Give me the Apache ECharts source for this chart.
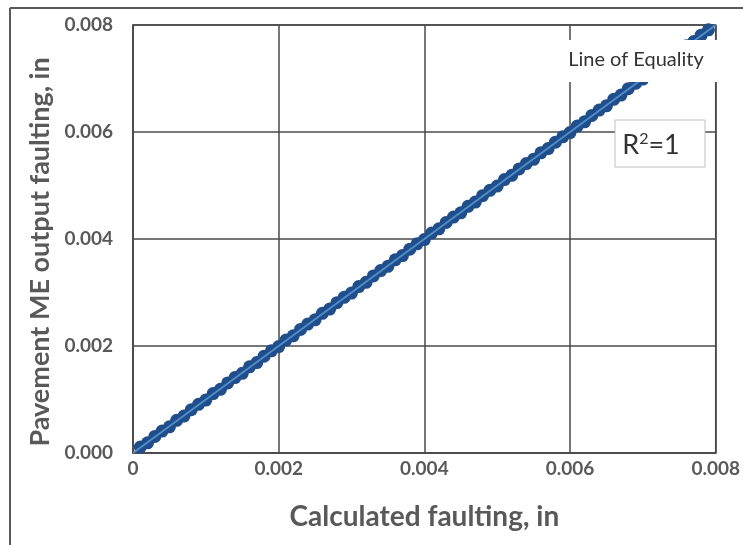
<!DOCTYPE html>
<html>
<head>
<meta charset="utf-8">
<script src="https://cdn.jsdelivr.net/npm/echarts@6/dist/echarts.min.js"></script>
<style>html,body{margin:0;padding:0;background:#fff}#c{width:743px;height:545px}</style>
</head>
<body>
<div id="c"></div>
<script>
var calculated = [0.00010,0.00020,0.00030,0.00040,0.00050,0.00060,0.00070,0.00080,0.00090,0.00100,
0.00110,0.00120,0.00130,0.00140,0.00150,0.00160,0.00170,0.00180,0.00190,0.00200,
0.00210,0.00220,0.00230,0.00240,0.00250,0.00260,0.00270,0.00280,0.00290,0.00300,
0.00310,0.00320,0.00330,0.00340,0.00350,0.00360,0.00370,0.00380,0.00390,0.00400,
0.00410,0.00420,0.00430,0.00440,0.00450,0.00460,0.00470,0.00480,0.00490,0.00500,
0.00510,0.00520,0.00530,0.00540,0.00550,0.00560,0.00570,0.00580,0.00590,0.00600,
0.00610,0.00620,0.00630,0.00640,0.00650,0.00660,0.00670,0.00680,0.00690,0.00700,
0.00710,0.00720,0.00730,0.00740,0.00750,0.00760,0.00770,0.00780,0.00790];
var pavementME = [0.00011,0.00019,0.00031,0.00041,0.00049,0.00061,0.00069,0.00081,0.00091,0.00099,
0.00111,0.00119,0.00131,0.00141,0.00149,0.00161,0.00169,0.00181,0.00191,0.00199,
0.00211,0.00219,0.00231,0.00241,0.00249,0.00261,0.00269,0.00281,0.00291,0.00299,
0.00311,0.00319,0.00331,0.00341,0.00349,0.00361,0.00369,0.00381,0.00391,0.00399,
0.00411,0.00419,0.00431,0.00441,0.00449,0.00461,0.00469,0.00481,0.00491,0.00499,
0.00511,0.00519,0.00531,0.00541,0.00549,0.00561,0.00569,0.00581,0.00591,0.00599,
0.00611,0.00619,0.00631,0.00641,0.00649,0.00661,0.00669,0.00681,0.00691,0.00699,
0.00711,0.00719,0.00731,0.00741,0.00749,0.00761,0.00769,0.00781,0.00791];
var equalityLine = [[0, 0], [0.008, 0.008]];
var xTickLabels = ['0', '0.002', '0.004', '0.006', '0.008'];
var yTickLabels = ['0.000', '0.002', '0.004', '0.006', '0.008'];
var xTitle = 'Calculated faulting, in';
var yTitle = 'Pavement ME output faulting, in';
var lineLabel = 'Line of Equality';

var pts = calculated.map(function (v, i) { return [v, pavementME[i]]; });
var FONT = 'Lato';
var GRID = '#4a4a4a';
var chart = echarts.init(document.getElementById('c'), null, {renderer: 'canvas'});
chart.setOption({
  animation: false,
  backgroundColor: '#fff',
  grid: {left: 133, right: 25, top: 25, bottom: 92, show: true, borderColor: GRID, borderWidth: 1.5},
  xAxis: {
    type: 'value', min: 0, max: 0.008, interval: 0.002,
    name: xTitle, nameLocation: 'middle', nameGap: 50,
    nameTextStyle: {fontFamily: FONT, fontWeight: 'bold', fontSize: 28, color: '#595959'},
    axisLine: {show: true, lineStyle: {color: GRID, width: 1.5}},
    axisTick: {show: false},
    axisLabel: {margin: 6, fontFamily: FONT, fontWeight: 'bold', fontSize: 19, color: '#595959',
      formatter: function (v) { return xTickLabels[Math.round(v / 0.002)]; }},
    splitLine: {show: true, lineStyle: {color: GRID, width: 1.5}}
  },
  yAxis: {
    type: 'value', min: 0, max: 0.008, interval: 0.002,
    name: yTitle, nameLocation: 'middle', nameGap: 74,
    nameTextStyle: {fontFamily: FONT, fontWeight: 'bold', fontSize: 27, color: '#595959', padding: [0, 26, 0, 0]},
    axisLine: {show: true, lineStyle: {color: GRID, width: 1.5}},
    axisTick: {show: false},
    axisLabel: {margin: 20, fontFamily: FONT, fontWeight: 'bold', fontSize: 19, color: '#595959',
      formatter: function (v) { return yTickLabels[Math.round(v / 0.002)]; }},
    splitLine: {show: true, lineStyle: {color: GRID, width: 1.5}}
  },
  series: [
    {type: 'scatter', data: pts, symbol: 'circle', symbolSize: 13,
      itemStyle: {color: '#1f4e8a', opacity: 1}, z: 3},
    {type: 'line', data: equalityLine, symbol: 'none',
      lineStyle: {color: '#4f8cc9', width: 2}, z: 4}
  ],
  graphic: [
    {type: 'line', shape: {x1: 10, y1: 8, x2: 743, y2: 8}, style: {stroke: '#595959', lineWidth: 2}, z: 10},
    {type: 'line', shape: {x1: 10, y1: 8, x2: 10, y2: 545}, style: {stroke: '#595959', lineWidth: 2}, z: 10},
    {type: 'rect', shape: {x: 565, y: 40, width: 160, height: 42}, style: {fill: '#fff'}, z: 10},
    {type: 'text', x: 636, y: 60, style: {text: lineLabel, fontFamily: FONT, fontSize: 20, fill: '#333',
      align: 'center', verticalAlign: 'middle'}, z: 11},
    {type: 'rect', shape: {x: 615, y: 120, width: 90, height: 47},
      style: {fill: '#fff', stroke: '#bfbfbf', lineWidth: 1}, z: 10},
    {type: 'text', x: 651, y: 145, style: {text: '{b|R}{s|2}{b|=1}',
      align: 'center', verticalAlign: 'middle',
      rich: {b: {fontFamily: FONT, fontSize: 27, fill: '#333', color: '#333'},
             s: {fontFamily: FONT, fontSize: 16, fill: '#333', color: '#333', verticalAlign: 'top', padding: [0, 0, 12, 0]}}}, z: 11}
  ]
});
</script>
</body>
</html>
